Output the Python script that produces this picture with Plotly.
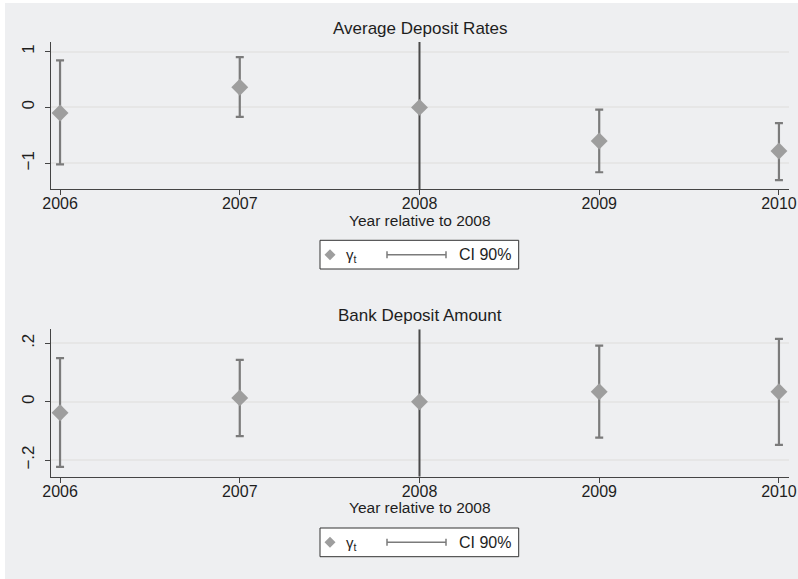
import plotly.graph_objects as go

W, H = 798, 579

# Event-study estimates by year, with 90% confidence bounds
years = [2006, 2007, 2008, 2009, 2010]
base_year = 2008

rate_coef = [-0.10, 0.36, 0.0, -0.60, -0.78]
rate_lo = [-1.02, -0.17, 0.0, -1.16, -1.30]
rate_hi = [0.84, 0.90, 0.0, -0.04, -0.28]

amt_coef = [-0.038, 0.013, 0.0, 0.034, 0.034]
amt_lo = [-0.223, -0.118, 0.0, -0.123, -0.148]
amt_hi = [0.149, 0.143, 0.0, 0.192, 0.215]

panel_titles = ["Average Deposit Rates", "Bank Deposit Amount"]
x_title = "Year relative to 2008"
rate_ticks = [-1, 0, 1]
rate_ticktext = ["\u22121", "0", "1"]
amt_ticks = [-0.2, 0, 0.2]
amt_ticktext = ["\u2212.2", "0", ".2"]

FONT = "Liberation Sans, Arial, sans-serif"
TXT = "#1e1e1e"
BG = "#eeeff1"
CI_COL = "#7b7b7b"
PT_COL = "#9e9e9e"
REF_COL = "#4a4a4a"


def px(x):
    return x / W


def py(y):
    return 1 - y / H


fig = go.Figure()

panels = [
    dict(coef=rate_coef, lo=rate_lo, hi=rate_hi, xa="x", ya="y",
         top=42, bot=189, yr=[-1.46, 1.17], tv=rate_ticks, tt=rate_ticktext),
    dict(coef=amt_coef, lo=amt_lo, hi=amt_hi, xa="x2", ya="y2",
         top=329.3, bot=476.7, yr=[-0.257, 0.248], tv=amt_ticks, tt=amt_ticktext),
]

shapes = []
annotations = []

# full-figure grey backdrop
shapes.append(dict(type="rect", xref="paper", yref="paper", x0=px(5), x1=1,
                   y0=0, y1=py(3), fillcolor=BG, line=dict(width=0), layer="below"))

for i, p in enumerate(panels):
    # vertical reference line at the base year, spanning the panel
    fig.add_trace(go.Scatter(
        x=[base_year, base_year], y=p["yr"], mode="lines",
        xaxis=p["xa"], yaxis=p["ya"], line=dict(color=REF_COL, width=2),
        showlegend=False, hoverinfo="skip", cliponaxis=True))

    up = [h - c for h, c in zip(p["hi"], p["coef"])]
    dn = [c - l for c, l in zip(p["coef"], p["lo"])]
    fig.add_trace(go.Scatter(
        x=years, y=p["coef"], mode="markers", xaxis=p["xa"], yaxis=p["ya"],
        marker=dict(size=1, color="rgba(0,0,0,0)"),
        error_y=dict(type="data", array=up, arrayminus=dn, color=CI_COL,
                     thickness=2.2, width=4),
        showlegend=False, hoverinfo="skip"))
    fig.add_trace(go.Scatter(
        x=years, y=p["coef"], mode="markers", xaxis=p["xa"], yaxis=p["ya"],
        marker=dict(symbol="diamond", size=13, color=PT_COL),
        showlegend=False))

    ttl_y = 28 if i == 0 else 315
    annotations.append(dict(text=panel_titles[i], xref="paper", yref="paper",
                            x=px(420), y=py(ttl_y), showarrow=False,
                            font=dict(size=17, color=TXT, family=FONT),
                            xanchor="center", yanchor="middle"))
    annotations.append(dict(text=x_title, xref="paper", yref="paper",
                            x=px(420), y=py(p["bot"] + 31), showarrow=False,
                            font=dict(size=15.5, color=TXT, family=FONT),
                            xanchor="center", yanchor="middle"))

    # legend box
    lt = p["bot"] + 51.3
    lb = lt + 28.7
    lc = (lt + lb) / 2
    shapes.append(dict(type="rect", xref="paper", yref="paper",
                       x0=px(320), x1=px(518.7), y0=py(lb), y1=py(lt),
                       fillcolor="white", line=dict(color="#333333", width=1)))
    d = 5.5
    shapes.append(dict(type="path", xref="paper", yref="paper",
                       path=f"M {px(330)},{py(lc - d)} L {px(330 + d)},{py(lc)} "
                            f"L {px(330)},{py(lc + d)} L {px(330 - d)},{py(lc)} Z",
                       fillcolor=PT_COL, line=dict(width=0)))
    annotations.append(dict(text="\u03b3<sub>t</sub>", xref="paper", yref="paper",
                            x=px(344), y=py(lc + 1), showarrow=False,
                            font=dict(size=15, color=TXT, family=FONT),
                            xanchor="left", yanchor="middle"))
    shapes.append(dict(type="line", xref="paper", yref="paper",
                       x0=px(387), x1=px(446), y0=py(lc), y1=py(lc),
                       line=dict(color=CI_COL, width=1.5)))
    for xc in (387, 446):
        shapes.append(dict(type="line", xref="paper", yref="paper",
                           x0=px(xc), x1=px(xc), y0=py(lc - 3.5), y1=py(lc + 3.5),
                           line=dict(color=CI_COL, width=1.5)))
    annotations.append(dict(text="CI 90%", xref="paper", yref="paper",
                            x=px(457), y=py(lc), showarrow=False,
                            font=dict(size=16, color=TXT, family=FONT),
                            xanchor="left", yanchor="middle"))

xrange = [2005.948, 2010.056]
axis_common = dict(showline=True, linecolor="#444444", linewidth=1.2,
                   ticks="outside", ticklen=5, tickcolor="#444444", tickwidth=1.2,
                   zeroline=False, automargin=False)

layout = dict(
    width=W, height=H, margin=dict(l=0, r=0, t=0, b=0, autoexpand=False),
    paper_bgcolor="white", plot_bgcolor="white",
    shapes=shapes, annotations=annotations, showlegend=False,
)

for i, p in enumerate(panels):
    sfx = "" if i == 0 else str(i + 1)
    layout["xaxis" + sfx] = dict(
        axis_common, domain=[px(50.7), px(789)], range=xrange,
        tickvals=years, ticktext=[str(y) for y in years], showgrid=False,
        tickfont=dict(size=16, color=TXT, family=FONT),
        anchor="y" + sfx, ticklabelstandoff=-5)
    layout["yaxis" + sfx] = dict(
        axis_common, domain=[py(p["bot"]), py(p["top"])], range=p["yr"],
        tickvals=p["tv"], ticktext=p["tt"], tickangle=-90,
        tickfont=dict(size=17, color=TXT, family=FONT),
        showgrid=True, gridcolor="#e6e6e6", gridwidth=1.5,
        anchor="x" + sfx, ticklabelstandoff=4)

fig.update_layout(**layout)
fig.write_html("out.html")
